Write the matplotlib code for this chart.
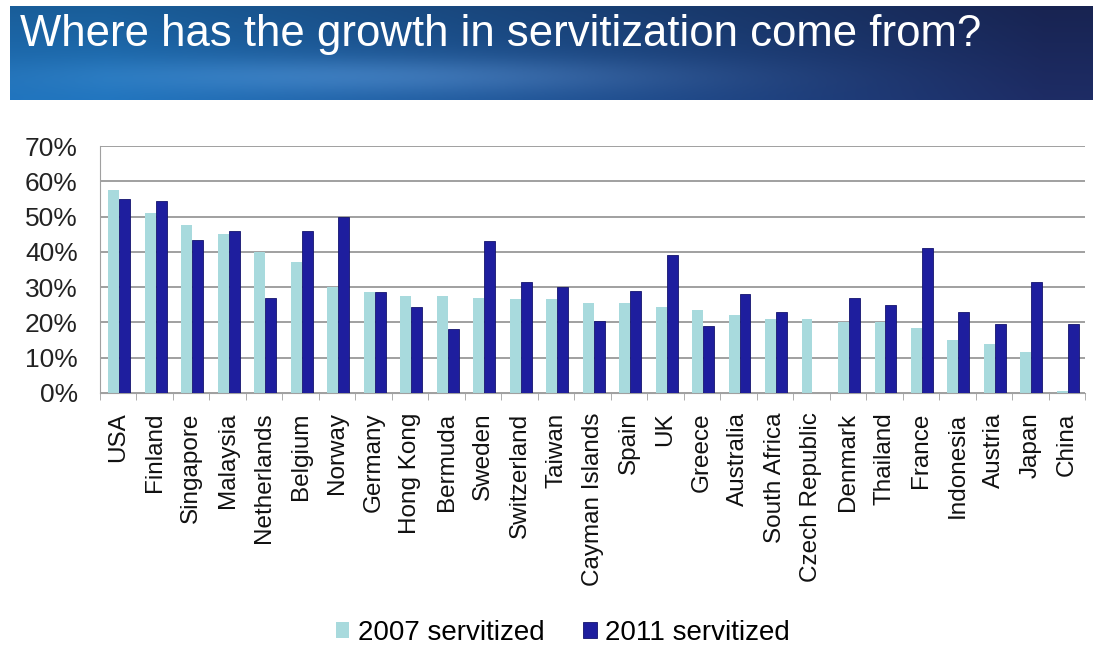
import numpy as np
import matplotlib.pyplot as plt
from matplotlib.ticker import PercentFormatter, FixedLocator

countries = ["USA", "Finland", "Singapore", "Malaysia", "Netherlands", "Belgium",
             "Norway", "Germany", "Hong Kong", "Bermuda", "Sweden", "Switzerland",
             "Taiwan", "Cayman Islands", "Spain", "UK", "Greece", "Australia",
             "South Africa", "Czech Republic", "Denmark", "Thailand", "France",
             "Indonesia", "Austria", "Japan", "China"]
serv_2007 = [57.5, 51, 47.5, 45, 40, 37, 30, 28.5, 27.5, 27.5, 27, 26.5, 26.5, 25.5,
             25.5, 24.5, 23.5, 22, 21, 21, 20, 20, 18.5, 15, 14, 11.5, 0.5]
serv_2011 = [55, 54.5, 43.5, 46, 27, 46, 50, 28.5, 24.5, 18, 43, 31.5, 30, 20.5,
             29, 39, 19, 28, 23, 0, 27, 25, 41, 23, 19.5, 31.5, 19.5]

TITLE = "Where has the growth in servitization come from?"
FONT = ["Liberation Sans", "DejaVu Sans"]

fig = plt.figure(figsize=(10.93, 6.48), dpi=100)
fig.patch.set_facecolor("white")

# banner with blue gradient
W, H = 1093, 648
ban = fig.add_axes([10 / W, 1 - 100 / H, 1 - 10 / W, 94 / H])
gx = np.linspace(0, 1, 300)
gy = np.linspace(0, 1, 60)
X, Y = np.meshgrid(gx, gy)
c_left = np.array([0x1e, 0x6e, 0xb4]) / 255
c_right = np.array([0x1c, 0x2a, 0x60]) / 255
t = np.clip(X * 1.15 - 0.1, 0, 1)[..., None]
img = c_left * (1 - t) + c_right * t
# darker at top, lighter band lower middle
glow = np.exp(-((Y - 0.75) ** 2) / 0.04) * np.exp(-((X - 0.35) ** 2) / 0.08)
img = np.clip(img * (0.85 + 0.2 * Y)[..., None] + 0.12 * glow[..., None], 0, 1)
ban.imshow(img, aspect="auto", extent=[0, 1, 0, 1], origin="upper")
ban.set_axis_off()
ban.text(20 / W, 1 - 46 / H, TITLE, color="white", fontsize=31.5, family=FONT,
         va="baseline", ha="left", transform=fig.transFigure)

ax = fig.add_axes([100 / W, 1 - 393 / H, 985 / W, 247 / H])
x = np.arange(len(countries))
bw = 0.3
ax.bar(x - bw / 2 + 0.03, serv_2007, bw, color="#a8dadd", label="2007 servitized", zorder=2)
ax.bar(x + bw / 2 + 0.03, serv_2011, bw, color="#1e1e9e", edgecolor="#14146e",
       linewidth=0.6, label="2011 servitized", zorder=3)

ax.set_ylim(0, 70)
ax.set_xlim(-0.5, len(countries) - 0.5)
ax.set_yticks(np.arange(0, 71, 10))
ax.yaxis.set_major_formatter(PercentFormatter(decimals=0))
ax.yaxis.grid(True, color="#a0a0a0", linewidth=1.4, zorder=0)
ax.set_axisbelow(True)
ax.tick_params(axis="y", length=0, labelsize=19, pad=16, labelcolor="#222222")
ax.set_xticks(x)
ax.set_xticklabels(countries, rotation=90, fontsize=17.5, family=FONT)
ax.tick_params(axis="x", length=0, pad=14, labelcolor="#111111")
ax.xaxis.set_minor_locator(FixedLocator(np.arange(-0.5, len(countries), 1)))
ax.tick_params(axis="x", which="minor", length=5, color="#a0a0a0")
for lab in ax.get_yticklabels():
    lab.set_family(FONT)
for s in ["top", "right"]:
    ax.spines[s].set_visible(False)
ax.spines["left"].set_color("#a0a0a0")
ax.spines["bottom"].set_color("#a0a0a0")

fig.legend(loc="center", bbox_to_anchor=(0.515, 1 - 633 / H), ncol=2, frameon=False,
           prop={"family": FONT, "size": 20}, handlelength=0.5, handleheight=0.5,
           handletextpad=0.3, columnspacing=1.4)

fig.savefig("out.png", dpi=100, facecolor="white")
